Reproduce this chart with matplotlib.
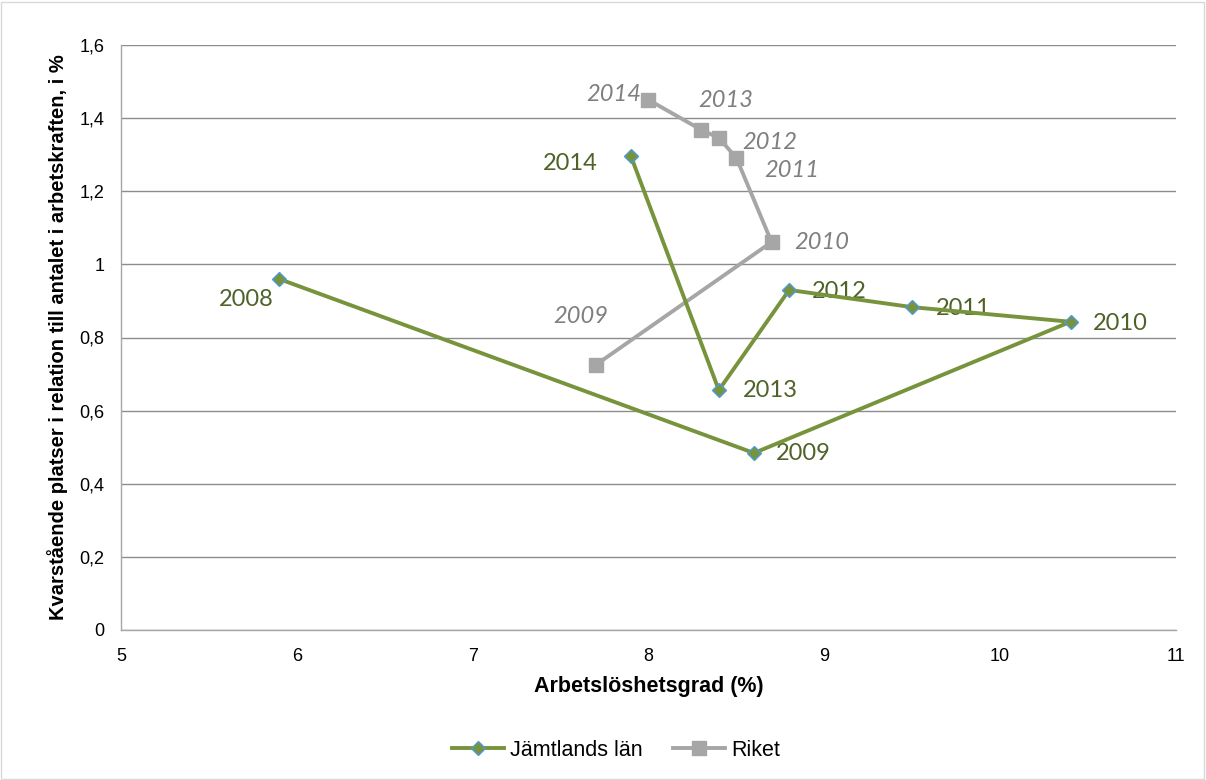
import matplotlib
matplotlib.use("Agg")
import matplotlib.pyplot as plt
from matplotlib.patches import Rectangle

# ── Data ──────────────────────────────────────────────────────────────────────
years = ["2008", "2009", "2010", "2011", "2012", "2013", "2014"]
jamt_x = [5.9, 8.6, 10.4, 9.5, 8.8, 8.4, 7.9]
jamt_y = [0.96, 0.484, 0.843, 0.883, 0.93, 0.656, 1.296]

riket_years = ["2009", "2010", "2011", "2012", "2013", "2014"]
riket_x = [7.7, 8.7, 8.5, 8.4, 8.3, 8.0]
riket_y = [0.725, 1.061, 1.291, 1.346, 1.368, 1.45]

xticks = [5, 6, 7, 8, 9, 10, 11]
yticks = [0, 0.2, 0.4, 0.6, 0.8, 1.0, 1.2, 1.4, 1.6]
ytick_labels = ["0", "0,2", "0,4", "0,6", "0,8", "1", "1,2", "1,4", "1,6"]

# label offsets in points (dx, dy, ha)
jamt_off = {"2008": (-4, -15, "right"), "2009": (16, 0, "left"),
            "2010": (16, -1, "left"), "2011": (17, -1, "left"),
            "2012": (16, -1, "left"), "2013": (17, 0, "left"),
            "2014": (-24, -5, "right")}
riket_off = {"2009": (9, 35, "right"), "2010": (16, 0, "left"),
             "2011": (20, -9, "left"), "2012": (17, -3, "left"),
             "2013": (-2, 21, "left"), "2014": (-5, 4, "right")}

GREEN = "#77933C"
GREEN_TXT = "#4F6228"
GRAY = "#A6A6A6"
GRAY_TXT = "#7F7F7F"

plt.rcParams["font.family"] = ["Liberation Sans", "DejaVu Sans"]

fig = plt.figure(figsize=(12.06, 7.8), dpi=100)
fig.patches.append(Rectangle((0.001, 0.001), 0.997, 0.997, transform=fig.transFigure,
                             fill=False, edgecolor="#D9D9D9", linewidth=1))
ax = fig.add_axes([121 / 1206, 1 - 630 / 780, (1176 - 121) / 1206, (630 - 45) / 780])

ax.plot(jamt_x, jamt_y, color=GREEN, linewidth=2.8, marker="D", markersize=7,
        markerfacecolor=GREEN, markeredgecolor="#4F9BD9", markeredgewidth=1,
        label="Jämtlands län", zorder=4)
ax.plot(riket_x, riket_y, color=GRAY, linewidth=2.8, marker="s", markersize=10,
        markerfacecolor=GRAY, markeredgecolor=GRAY,
        label="Riket", zorder=3)

for yr, x, y in zip(years, jamt_x, jamt_y):
    dx, dy, ha = jamt_off[yr]
    ax.annotate(yr, (x, y), xytext=(dx, dy), textcoords="offset points",
                ha=ha, va="center", fontsize=17, color=GREEN_TXT,
                family=["Lato", "DejaVu Sans"])
for yr, x, y in zip(riket_years, riket_x, riket_y):
    dx, dy, ha = riket_off[yr]
    ax.annotate(yr, (x, y), xytext=(dx, dy), textcoords="offset points",
                ha=ha, va="center", fontsize=17, color=GRAY_TXT, style="italic",
                family=["Lato", "DejaVu Sans"])

ax.set_xlim(5, 11)
ax.set_ylim(0, 1.6)
ax.set_xticks(xticks)
ax.set_xticklabels([str(t) for t in xticks])
ax.set_yticks(yticks)
ax.set_yticklabels(ytick_labels)
ax.tick_params(axis="both", labelsize=13, length=0)
ax.tick_params(axis="y", pad=12)
ax.tick_params(axis="x", pad=13)
ax.grid(axis="y", color="#8C8C8C", linewidth=1)
ax.set_axisbelow(True)
for s in ["top", "right"]:
    ax.spines[s].set_visible(False)
for s in ["left", "bottom"]:
    ax.spines[s].set_color("#A6A6A6")
    ax.spines[s].set_linewidth(1)

ax.set_xlabel("Arbetslöshetsgrad (%)", fontsize=15.5, fontweight="bold", labelpad=8)
ax.set_ylabel("Kvarstående platser i relation till antalet i arbetskraften, i %",
              fontsize=14.5, fontweight="bold", labelpad=8)

fig.legend(loc="center", bbox_to_anchor=(616 / 1206, 1 - 750 / 780),
           ncol=2, frameon=False, fontsize=15.5, handlelength=2.4,
           handletextpad=0.3, columnspacing=1.4)

fig.savefig("out.png", dpi=100)
